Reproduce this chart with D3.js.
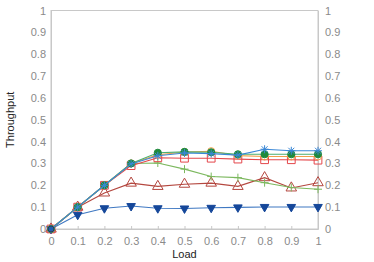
<!DOCTYPE html>
<html>
<head>
<meta charset="utf-8">
<script src="https://cdn.jsdelivr.net/npm/d3@7"></script>
<style>
  body { margin: 0; background: #fff; }
  svg { display: block; font-family: "Liberation Sans", Arial, sans-serif; }
</style>
</head>
<body>
<svg id="chart" width="374" height="262"></svg>
<script>
// data
let loads = [0, 0.1, 0.2, 0.3, 0.4, 0.5, 0.6, 0.7, 0.8, 0.9, 1]
let yTicks = [0, 0.1, 0.2, 0.3, 0.4, 0.5, 0.6, 0.7, 0.8, 0.9, 1]

let downTri = [0, 0.065, 0.095, 0.105, 0.095, 0.094, 0.097, 0.099, 0.101, 0.101, 0.101]
let upTri = [0, 0.1, 0.165, 0.21, 0.195, 0.205, 0.21, 0.195, 0.235, 0.188, 0.212]
let plus = [0, 0.1, 0.2, 0.3, 0.302, 0.274, 0.24, 0.235, 0.212, 0.19, 0.182]
let squares = [0, 0.1, 0.2, 0.29, 0.326, 0.324, 0.324, 0.32, 0.317, 0.317, 0.315]
let orange = [0, 0.1, 0.2, 0.3, 0.34, 0.352, 0.356, 0.336, 0.332, 0.332, 0.332]
let greenCirc = [0, 0.1, 0.2, 0.3, 0.349, 0.353, 0.351, 0.342, 0.342, 0.342, 0.342]
let stars = [0, 0.1, 0.2, 0.298, 0.335, 0.348, 0.345, 0.338, 0.365, 0.358, 0.358]

let series = [
  {name: "down", values: downTri, line: "#3f78c2", marker: "down", fill: "#15479a", stroke: "#15479a"},
  {name: "up", values: upTri, line: "#b4473f", marker: "up", fill: "none", stroke: "#b4473f"},
  {name: "plus", values: plus, line: "#7cb85e", marker: "plus", fill: "none", stroke: "#7cb85e"},
  {name: "square", values: squares, line: "#e4474b", marker: "square", fill: "none", stroke: "#e4474b"},
  {name: "orange", values: orange, line: "#f0a04a", marker: "circle", fill: "none", stroke: "#f0a04a"},
  {name: "green", values: greenCirc, line: "#4caf70", marker: "circle", fill: "#1f8a3c", stroke: "#1f8a3c"},
  {name: "star", values: stars, line: "#3a87d6", marker: "star", fill: "none", stroke: "#3a87d6"}
]

let margins = {left: 51, right: 56, top: 10.5, bottom: 33}
let width = 374, height = 262

let svg = d3.select("#chart")

let x = d3.scaleLinear().domain([0, 1]).range([margins.left, width - margins.right])
let y = d3.scaleLinear().domain([0, 1]).range([height - margins.bottom, margins.top])

// frame
svg.append("rect")
  .attr("x", x(0)).attr("y", y(1))
  .attr("width", x(1) - x(0)).attr("height", y(0) - y(1))
  .attr("fill", "none").attr("stroke", "#c8c8c8").attr("stroke-width", 1)

let fmt = d => d === 0 || d === 1 ? d3.format("d")(d) : d3.format(".1f")(d)

let bottom = svg.append("g")
  .attr("transform", `translate(0, ${y(0)})`)
  .call(d3.axisBottom(x).tickValues(loads).tickSizeInner(-3).tickSizeOuter(0).tickPadding(8).tickFormat(fmt))

let left = svg.append("g")
  .attr("transform", `translate(${x(0)}, 0)`)
  .call(d3.axisLeft(y).tickValues(yTicks).tickSize(0).tickPadding(5).tickFormat(fmt))

let right = svg.append("g")
  .attr("transform", `translate(${x(1)}, 0)`)
  .call(d3.axisRight(y).tickValues(yTicks).tickSize(0).tickPadding(7).tickFormat(fmt))

for (let g of [bottom, left, right]) {
  g.select(".domain").attr("stroke", "#c8c8c8")
  g.selectAll(".tick line").attr("stroke", "#c8c8c8")
  g.selectAll(".tick text").attr("fill", "#8a8a8a").attr("font-size", 11)
    .attr("font-family", "Liberation Sans, Arial, sans-serif")
}

// axis titles
svg.append("text")
  .attr("x", (x(0) + x(1)) / 2).attr("y", 258)
  .attr("text-anchor", "middle").attr("font-size", 11).attr("fill", "#222")
  .text("Load")

svg.append("text")
  .attr("transform", `translate(14, ${(y(0) + y(1)) / 2}) rotate(-90)`)
  .attr("text-anchor", "middle").attr("font-size", 11).attr("fill", "#222")
  .text("Throughput")

let line = d3.line().x((d, i) => x(loads[i])).y(d => y(d))

let symbols = {
  down: d3.symbol().type(d3.symbolTriangle).size(32),
  up: d3.symbol().type(d3.symbolTriangle).size(48),
  square: d3.symbol().type(d3.symbolSquare).size(60),
  circle: d3.symbol().type(d3.symbolCircle).size(40)
}

for (let s of series) {
  let g = svg.append("g").attr("class", "series-" + s.name)
  g.append("path")
    .attr("d", line(s.values))
    .attr("fill", "none").attr("stroke", s.line).attr("stroke-width", 1.1)

  let pts = g.selectAll("g.pt")
    .data(s.values).enter()
    .append("g")
    .attr("class", "pt")
    .attr("transform", (d, i) => `translate(${x(loads[i])}, ${y(d)})` + (s.marker === "down" ? " rotate(180)" : ""))

  if (s.marker === "plus") {
    pts.append("path")
      .attr("d", "M-4,0H4M0,-4V4")
      .attr("stroke", s.stroke).attr("stroke-width", 1).attr("fill", "none")
  } else if (s.marker === "star") {
    pts.append("path")
      .attr("d", "M-4,0H4M0,-4V4M-3,-3L3,3M-3,3L3,-3")
      .attr("stroke", s.stroke).attr("stroke-width", 1).attr("fill", "none")
  } else {
    pts.append("path")
      .attr("d", symbols[s.marker]())
      .attr("fill", s.fill).attr("stroke", s.stroke).attr("stroke-width", 1)
  }
}

// the origin marker looks blue-filled
svg.append("circle")
  .attr("cx", x(0)).attr("cy", y(0)).attr("r", 3)
  .attr("fill", "#1f5fb0").attr("stroke", "#333").attr("stroke-width", 0.8)
</script>
</body>
</html>
